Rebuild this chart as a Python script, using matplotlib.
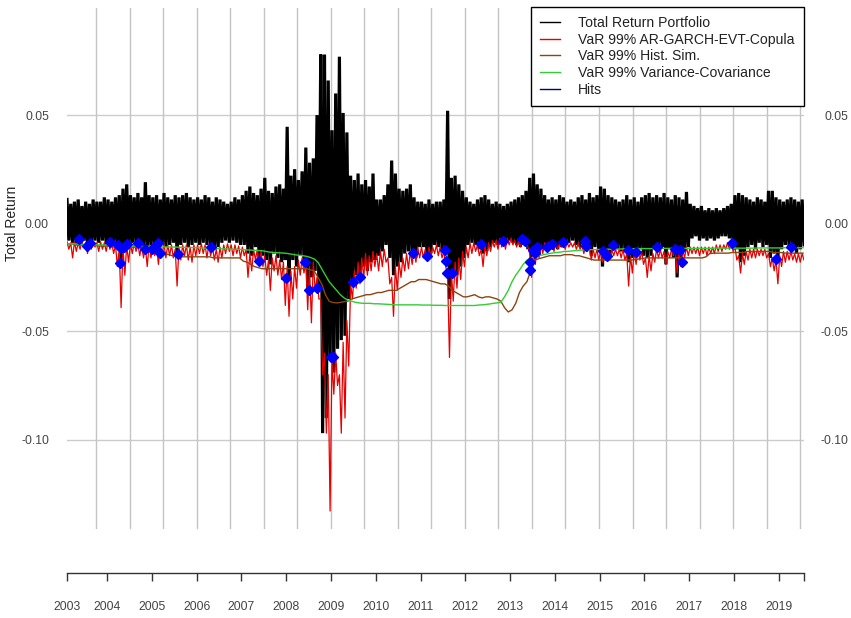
import numpy as np
import matplotlib
matplotlib.use("Agg")
import matplotlib.pyplot as plt
import matplotlib.transforms as mtransforms
from matplotlib.lines import Line2D

plt.rcParams['font.family'] = ['Liberation Sans', 'DejaVu Sans']

# Monthly series, first month = Feb 2003, last month = Jul 2019
first_year = 2003
first_month = 2

# Daily portfolio return: monthly upper / lower extremes
ret_hi = [
    0.011, 0.009, 0.010, 0.011, 0.008, 0.010, 0.009, 0.011, 0.010, 0.010, 0.012,                # 2003
    0.011, 0.010, 0.012, 0.013, 0.016, 0.018, 0.013, 0.012, 0.014, 0.012, 0.019, 0.013,         # 2004
    0.012, 0.013, 0.011, 0.014, 0.012, 0.011, 0.013, 0.012, 0.013, 0.014, 0.012, 0.011,         # 2005
    0.012, 0.011, 0.013, 0.012, 0.010, 0.012, 0.011, 0.010, 0.009, 0.010, 0.012, 0.011,         # 2006
    0.013, 0.015, 0.017, 0.014, 0.013, 0.016, 0.021, 0.015, 0.014, 0.017, 0.018, 0.016,         # 2007
    0.0446, 0.022, 0.025, 0.020, 0.024, 0.035, 0.028, 0.030, 0.050, 0.078, 0.078, 0.066,        # 2008
    0.043, 0.060, 0.077, 0.051, 0.042, 0.022, 0.020, 0.023, 0.018, 0.020, 0.017, 0.023,         # 2009
    0.011, 0.011, 0.013, 0.018, 0.029, 0.023, 0.016, 0.015, 0.016, 0.018, 0.012, 0.010,         # 2010
    0.010, 0.009, 0.011, 0.009, 0.010, 0.010, 0.011, 0.052, 0.021, 0.022, 0.018, 0.015,         # 2011
    0.012, 0.010, 0.009, 0.011, 0.012, 0.013, 0.011, 0.009, 0.010, 0.009, 0.008, 0.009,         # 2012
    0.010, 0.011, 0.012, 0.013, 0.015, 0.021, 0.023, 0.018, 0.016, 0.013, 0.011, 0.012,         # 2013
    0.011, 0.013, 0.012, 0.010, 0.011, 0.010, 0.012, 0.013, 0.011, 0.014, 0.012, 0.013,         # 2014
    0.017, 0.016, 0.013, 0.012, 0.011, 0.010, 0.011, 0.013, 0.011, 0.012, 0.010, 0.012,         # 2015
    0.013, 0.014, 0.012, 0.013, 0.012, 0.014, 0.012, 0.011, 0.013, 0.012, 0.011, 0.0145,        # 2016
    0.009, 0.008, 0.007, 0.008, 0.006, 0.007, 0.006, 0.007, 0.006, 0.007, 0.008, 0.009,         # 2017
    0.013, 0.014, 0.013, 0.012, 0.011, 0.010, 0.012, 0.011, 0.010, 0.015, 0.015, 0.012,         # 2018
    0.011, 0.010, 0.011, 0.012, 0.011, 0.010, 0.011,                                            # 2019
]
ret_lo = [
    -0.008, -0.009, -0.010, -0.010, -0.008, -0.011, -0.010, -0.008, -0.009, -0.008, -0.010,             # 2003
    -0.010, -0.009, -0.011, -0.019, -0.012, -0.011, -0.009, -0.010, -0.010, -0.011, -0.013, -0.010,     # 2004
    -0.012, -0.014, -0.010, -0.011, -0.010, -0.009, -0.015, -0.010, -0.009, -0.011, -0.010, -0.009,     # 2005
    -0.010, -0.009, -0.010, -0.011, -0.012, -0.011, -0.009, -0.008, -0.009, -0.008, -0.009, -0.010,     # 2006
    -0.010, -0.014, -0.015, -0.011, -0.018, -0.015, -0.017, -0.019, -0.014, -0.016, -0.018, -0.017,     # 2007
    -0.026, -0.017, -0.020, -0.015, -0.018, -0.031, -0.025, -0.022, -0.031, -0.097, -0.090, -0.062,     # 2008
    -0.069, -0.058, -0.054, -0.052, -0.035, -0.028, -0.024, -0.026, -0.020, -0.022, -0.018, -0.017,     # 2009
    -0.015, -0.013, -0.010, -0.016, -0.024, -0.020, -0.018, -0.014, -0.013, -0.015, -0.016, -0.011,     # 2010
    -0.011, -0.016, -0.014, -0.010, -0.011, -0.012, -0.014, -0.035, -0.025, -0.024, -0.020, -0.016,     # 2011
    -0.010, -0.009, -0.010, -0.012, -0.014, -0.013, -0.011, -0.009, -0.010, -0.009, -0.010, -0.008,     # 2012
    -0.009, -0.010, -0.011, -0.010, -0.012, -0.023, -0.016, -0.015, -0.012, -0.012, -0.010, -0.011,     # 2013
    -0.012, -0.011, -0.010, -0.009, -0.008, -0.010, -0.011, -0.012, -0.012, -0.015, -0.011, -0.013,     # 2014
    -0.020, -0.016, -0.015, -0.011, -0.012, -0.013, -0.012, -0.018, -0.016, -0.014, -0.012, -0.015,     # 2015
    -0.016, -0.015, -0.012, -0.012, -0.011, -0.019, -0.012, -0.016, -0.025, -0.019, -0.013, -0.011,     # 2016
    -0.007, -0.006, -0.008, -0.007, -0.008, -0.007, -0.008, -0.007, -0.006, -0.006, -0.007, -0.010,     # 2017
    -0.012, -0.018, -0.015, -0.011, -0.010, -0.012, -0.009, -0.011, -0.010, -0.016, -0.014, -0.017,     # 2018
    -0.012, -0.010, -0.011, -0.011, -0.014, -0.012, -0.010,                                             # 2019
]

# VaR 99% AR-GARCH-EVT-Copula: monthly shallowest / deepest level
garch_hi = [
    -0.0085, -0.009, -0.0085, -0.009, -0.0085, -0.009, -0.0085, -0.0085, -0.009, -0.0085, -0.009,               # 2003
    -0.0085, -0.009, -0.010, -0.012, -0.011, -0.010, -0.0095, -0.009, -0.0095, -0.010, -0.011, -0.010,          # 2004
    -0.010, -0.011, -0.010, -0.0095, -0.010, -0.010, -0.012, -0.011, -0.010, -0.010, -0.011, -0.010,            # 2005
    -0.010, -0.0095, -0.010, -0.010, -0.011, -0.012, -0.011, -0.010, -0.0095, -0.010, -0.010, -0.0105,          # 2006
    -0.011, -0.012, -0.014, -0.012, -0.012, -0.013, -0.015, -0.017, -0.016, -0.015, -0.017, -0.018,             # 2007
    -0.020, -0.022, -0.020, -0.017, -0.016, -0.018, -0.020, -0.018, -0.025, -0.035, -0.060, -0.070,             # 2008
    -0.063, -0.060, -0.070, -0.055, -0.045, -0.028, -0.022, -0.018, -0.016, -0.014, -0.015, -0.013,             # 2009
    -0.014, -0.013, -0.012, -0.016, -0.025, -0.020, -0.018, -0.016, -0.014, -0.013, -0.012, -0.011,             # 2010
    -0.011, -0.012, -0.011, -0.011, -0.010, -0.011, -0.013, -0.025, -0.022, -0.018, -0.016, -0.013,             # 2011
    -0.011, -0.009, -0.009, -0.010, -0.012, -0.010, -0.009, -0.008, -0.008, -0.007, -0.007, -0.007,             # 2012
    -0.007, -0.008, -0.008, -0.0075, -0.007, -0.014, -0.012, -0.011, -0.010, -0.009, -0.009, -0.009,            # 2013
    -0.009, -0.009, -0.009, -0.009, -0.009, -0.009, -0.009, -0.010, -0.010, -0.011, -0.012, -0.012,             # 2014
    -0.013, -0.013, -0.012, -0.012, -0.012, -0.012, -0.012, -0.014, -0.015, -0.013, -0.012, -0.013,             # 2015
    -0.016, -0.015, -0.014, -0.012, -0.012, -0.013, -0.013, -0.012, -0.012, -0.013, -0.012, -0.011,             # 2016
    -0.011, -0.011, -0.011, -0.011, -0.011, -0.011, -0.011, -0.010, -0.010, -0.010, -0.009, -0.009,             # 2017
    -0.011, -0.015, -0.014, -0.013, -0.012, -0.012, -0.012, -0.012, -0.012, -0.014, -0.016, -0.017,             # 2018
    -0.015, -0.013, -0.013, -0.013, -0.014, -0.014, -0.014,                                                     # 2019
]
garch_lo = [
    -0.012, -0.016, -0.013, -0.012, -0.011, -0.014, -0.012, -0.011, -0.013, -0.012, -0.013,             # 2003
    -0.012, -0.014, -0.020, -0.039, -0.024, -0.018, -0.014, -0.013, -0.015, -0.016, -0.020, -0.016,     # 2004
    -0.015, -0.019, -0.014, -0.016, -0.015, -0.016, -0.029, -0.017, -0.015, -0.017, -0.018, -0.015,     # 2005
    -0.014, -0.014, -0.016, -0.015, -0.017, -0.018, -0.016, -0.014, -0.013, -0.015, -0.014, -0.016,     # 2006
    -0.015, -0.025, -0.022, -0.017, -0.019, -0.020, -0.024, -0.031, -0.022, -0.024, -0.026, -0.038,     # 2007
    -0.043, -0.035, -0.030, -0.024, -0.023, -0.040, -0.046, -0.031, -0.035, -0.070, -0.097, -0.133,     # 2008
    -0.079, -0.075, -0.097, -0.090, -0.066, -0.035, -0.030, -0.028, -0.025, -0.024, -0.022, -0.020,     # 2009
    -0.022, -0.020, -0.018, -0.028, -0.043, -0.031, -0.025, -0.022, -0.021, -0.019, -0.018, -0.016,     # 2010
    -0.016, -0.017, -0.015, -0.014, -0.015, -0.016, -0.020, -0.062, -0.036, -0.030, -0.026, -0.020,     # 2011
    -0.016, -0.014, -0.013, -0.015, -0.020, -0.015, -0.013, -0.011, -0.012, -0.011, -0.012, -0.010,     # 2012
    -0.010, -0.011, -0.011, -0.010, -0.011, -0.025, -0.019, -0.016, -0.014, -0.013, -0.012, -0.013,     # 2013
    -0.012, -0.011, -0.012, -0.011, -0.011, -0.012, -0.012, -0.014, -0.013, -0.017, -0.016, -0.017,     # 2014
    -0.018, -0.017, -0.016, -0.015, -0.015, -0.016, -0.017, -0.029, -0.023, -0.019, -0.017, -0.019,     # 2015
    -0.025, -0.022, -0.018, -0.016, -0.016, -0.019, -0.016, -0.015, -0.023, -0.020, -0.016, -0.015,     # 2016
    -0.014, -0.014, -0.015, -0.014, -0.015, -0.014, -0.014, -0.013, -0.013, -0.012, -0.012, -0.013,     # 2017
    -0.017, -0.023, -0.019, -0.017, -0.016, -0.016, -0.015, -0.015, -0.016, -0.020, -0.022, -0.028,     # 2018
    -0.020, -0.018, -0.017, -0.017, -0.018, -0.018, -0.017,                                             # 2019
]

# VaR 99% Historical Simulation
var_hs = [
    -0.0095, -0.0095, -0.010, -0.010, -0.010, -0.010, -0.010, -0.010, -0.0105, -0.0105, -0.0105,                 # 2003
    -0.0105, -0.011, -0.011, -0.011, -0.011, -0.011, -0.011, -0.011, -0.011, -0.0115, -0.0115, -0.0115,           # 2004
    -0.0115, -0.012, -0.0135, -0.014, -0.0145, -0.015, -0.0155, -0.0155, -0.0155, -0.0155, -0.0155, -0.0155,      # 2005
    -0.0155, -0.0155, -0.0155, -0.0155, -0.016, -0.016, -0.016, -0.016, -0.016, -0.016, -0.016, -0.016,           # 2006
    -0.0175, -0.018, -0.019, -0.020, -0.0205, -0.021, -0.021, -0.021, -0.021, -0.021, -0.021, -0.021,             # 2007
    -0.021, -0.021, -0.021, -0.021, -0.021, -0.021, -0.0215, -0.022, -0.025, -0.028, -0.033, -0.036,              # 2008
    -0.0366, -0.0368, -0.0366, -0.0362, -0.036, -0.035, -0.0345, -0.034, -0.0335, -0.033, -0.033, -0.0325,        # 2009
    -0.032, -0.032, -0.0315, -0.031, -0.031, -0.031, -0.030, -0.029, -0.028, -0.027, -0.027, -0.026,              # 2010
    -0.026, -0.026, -0.0265, -0.027, -0.0275, -0.028, -0.028, -0.029, -0.031, -0.032, -0.033, -0.034,             # 2011
    -0.034, -0.0335, -0.033, -0.034, -0.0345, -0.034, -0.034, -0.0345, -0.035, -0.036, -0.039, -0.041,            # 2012
    -0.040, -0.037, -0.032, -0.029, -0.027, -0.022, -0.017, -0.0165, -0.016, -0.0155, -0.015, -0.015,             # 2013
    -0.015, -0.015, -0.0145, -0.0145, -0.0145, -0.015, -0.015, -0.0155, -0.016, -0.0165, -0.017, -0.017,          # 2014
    -0.017, -0.017, -0.017, -0.017, -0.017, -0.017, -0.017, -0.017, -0.017, -0.0168, -0.0165, -0.0163,            # 2015
    -0.016, -0.016, -0.016, -0.016, -0.016, -0.016, -0.016, -0.016, -0.016, -0.016, -0.016, -0.016,               # 2016
    -0.016, -0.016, -0.016, -0.016, -0.0155, -0.014, -0.0138, -0.0138, -0.0138, -0.0138, -0.0138, -0.0135,        # 2017
    -0.0135, -0.0135, -0.0135, -0.013, -0.013, -0.013, -0.013, -0.013, -0.013, -0.013, -0.0135, -0.0135,          # 2018
    -0.0135, -0.0138, -0.0138, -0.0138, -0.0138, -0.0138, -0.0138,                                                # 2019
]

# VaR 99% Variance-Covariance
var_vc = [
    -0.0095, -0.0095, -0.0095, -0.0097, -0.0098, -0.010, -0.010, -0.010, -0.010, -0.010, -0.010,                          # 2003
    -0.010, -0.010, -0.0102, -0.0103, -0.0104, -0.0105, -0.0105, -0.0105, -0.0106, -0.0106, -0.0107, -0.0107,              # 2004
    -0.0108, -0.0108, -0.0109, -0.0109, -0.011, -0.011, -0.011, -0.0111, -0.0111, -0.0112, -0.0112, -0.0113,               # 2005
    -0.0113, -0.0114, -0.0115, -0.0115, -0.0116, -0.0117, -0.0118, -0.0118, -0.0119, -0.012, -0.012, -0.0121,              # 2006
    -0.0122, -0.0123, -0.0124, -0.0125, -0.0126, -0.0127, -0.013, -0.0133, -0.0135, -0.0136, -0.0137, -0.0138,             # 2007
    -0.014, -0.0143, -0.0146, -0.0148, -0.015, -0.0153, -0.0158, -0.0165, -0.018, -0.021, -0.024, -0.027,                  # 2008
    -0.029, -0.031, -0.033, -0.0345, -0.0355, -0.036, -0.0365, -0.0368, -0.037, -0.037, -0.037, -0.0372,                   # 2009
    -0.0372, -0.0373, -0.0374, -0.0375, -0.0376, -0.0377, -0.0377, -0.0377, -0.0377, -0.0377, -0.0377, -0.0377,            # 2010
    -0.0378, -0.0378, -0.0378, -0.0379, -0.0379, -0.0379, -0.038, -0.038, -0.038, -0.038, -0.038, -0.038,                  # 2011
    -0.038, -0.038, -0.038, -0.0378, -0.0377, -0.0375, -0.0373, -0.037, -0.0368, -0.0365, -0.034, -0.031,                  # 2012
    -0.027, -0.024, -0.0216, -0.019, -0.017, -0.016, -0.0155, -0.015, -0.0147, -0.0143, -0.014, -0.0137,                   # 2013
    -0.0135, -0.0133, -0.013, -0.013, -0.0128, -0.0126, -0.0125, -0.0123, -0.0123, -0.0122, -0.0122, -0.0121,              # 2014
    -0.0121, -0.012, -0.012, -0.012, -0.0119, -0.0119, -0.0118, -0.0118, -0.0118, -0.0117, -0.0117, -0.0117,               # 2015
    -0.0117, -0.0117, -0.0117, -0.0117, -0.0116, -0.0116, -0.0116, -0.0116, -0.0116, -0.0116, -0.0116, -0.0116,            # 2016
    -0.0116, -0.0116, -0.0116, -0.0116, -0.0116, -0.0116, -0.0115, -0.0115, -0.0115, -0.0115, -0.0115, -0.0115,            # 2017
    -0.0115, -0.0115, -0.0115, -0.0115, -0.0115, -0.0115, -0.0114, -0.0114, -0.0114, -0.0114, -0.0114, -0.0114,            # 2018
    -0.0114, -0.0113, -0.0113, -0.0113, -0.0113, -0.0113, -0.0113,                                                         # 2019
]

# VaR exceedances (time in decimal years, return)
hit_t = [2003.38, 2003.54, 2003.61, 2004.07, 2004.24, 2004.28, 2004.30, 2004.37, 2004.45, 2004.68,
         2004.85, 2005.00, 2005.08, 2005.14, 2005.17, 2005.58, 2006.33, 2007.40, 2008.00, 2008.41,
         2008.50, 2008.68, 2008.99, 2009.05, 2009.48, 2009.65, 2010.83, 2011.14, 2011.55, 2011.57,
         2011.58, 2011.70, 2012.35, 2012.84, 2013.26, 2013.34, 2013.45, 2013.45, 2013.52, 2013.56,
         2013.60, 2013.82, 2013.93, 2014.19, 2014.68, 2014.70, 2015.07, 2015.16, 2015.30, 2015.63,
         2015.82, 2016.29, 2016.69, 2016.80, 2016.83, 2017.95, 2018.94, 2019.27]
hit_v = [-0.0073, -0.0105, -0.0092, -0.0088, -0.0100, -0.0182, -0.0113, -0.0108, -0.0097, -0.0092,
         -0.0120, -0.0119, -0.0105, -0.0090, -0.0136, -0.0143, -0.0108, -0.0176, -0.0251, -0.0177,
         -0.0308, -0.0300, -0.0616, -0.0616, -0.0272, -0.0250, -0.0138, -0.0153, -0.0125, -0.0176,
         -0.0228, -0.0228, -0.0096, -0.0082, -0.0074, -0.0080, -0.0180, -0.0216, -0.0123, -0.0139,
         -0.0108, -0.0108, -0.0096, -0.0085, -0.0080, -0.0104, -0.0127, -0.0151, -0.0099, -0.0123,
         -0.0131, -0.0108, -0.0120, -0.0123, -0.0180, -0.0090, -0.0164, -0.0108]

year_labels = [str(y) for y in range(2003, 2020)]
y_ticks = [-0.10, -0.05, 0.00, 0.05]
y_tick_labels = ["-0.10", "-0.05", "0.00", "0.05"]

# ---------------------------------------------------------------------------
n = len(ret_hi)
t = first_year + (np.arange(n) + first_month - 1 + 0.5) / 12.0
half = 1.0 / 48.0


def zigzag(hi, lo):
    """Alternate the monthly extremes so the line sweeps the whole range."""
    x = np.column_stack([t - half, t + half]).ravel()
    y = np.column_stack([hi, lo]).ravel()
    return x, y


W, H = 851, 618
fig = plt.figure(figsize=(W / 100, H / 100), dpi=100)

x_left, x_right = 67, 804
y_top, y_bot = 8, 529
ax = fig.add_axes([x_left / W, 1 - y_bot / H, (x_right - x_left) / W, (y_bot - y_top) / H])
ax.set_xlim(t[0] - half, t[-1] + half)
ax.set_ylim(-0.1413, 0.0995)
for s in ax.spines.values():
    s.set_visible(False)

for v in y_ticks:
    ax.axhline(v, color='#cccccc', lw=1.0, zorder=0)
grid_start, grid_step, grid_count = 2003.754, 0.7487, 22
for k in range(grid_count):
    ax.axvline(grid_start + k * grid_step, color='#c4c4c4', lw=1.0, zorder=0)

c_ret = 'black'
c_garch = '#E60000'
c_hs = '#8B4513'
c_vc = '#33CC33'
c_hit = '#0000FF'

xr, yr = zigzag(ret_hi, ret_lo)
ax.plot(xr, yr, color=c_ret, lw=2.3, zorder=2, solid_joinstyle='miter')
xg, yg = zigzag(garch_hi, garch_lo)
ax.plot(xg, yg, color=c_garch, lw=0.9, zorder=3)
ax.plot(t, var_hs, color=c_hs, lw=1.0, zorder=4)
ax.plot(t, var_vc, color=c_vc, lw=1.0, zorder=5)
ax.plot(hit_t, hit_v, linestyle='none', marker='D', ms=5.5, color=c_hit, mec=c_hit, zorder=6)

# y tick labels: left side on the main axes, right side on a twin
ax.set_xticks([])
ax.set_yticks(y_ticks)
ax.set_yticklabels(y_tick_labels)
ax.tick_params(axis='y', length=0, labelsize=8.7, labelcolor='#444444', pad=13)

axr = ax.twinx()
axr.set_ylim(ax.get_ylim())
axr.set_yticks(y_ticks)
axr.set_yticklabels(y_tick_labels)
axr.tick_params(axis='y', length=0, labelsize=8.7, labelcolor='#444444', pad=31.7)
for lab in axr.get_yticklabels():
    lab.set_horizontalalignment('right')
for s in axr.spines.values():
    s.set_visible(False)

# y axis title centred on the zero line
blend = mtransforms.blended_transform_factory(fig.transFigure, ax.transData)
ax.text(12 / W, 0.0, "Total Return", transform=blend, rotation=90,
        ha='center', va='center', fontsize=10, color='#222222')

# legend
handles = [Line2D([], [], color=c_ret, lw=1),
           Line2D([], [], color=c_garch, lw=1),
           Line2D([], [], color=c_hs, lw=1),
           Line2D([], [], color=c_vc, lw=1),
           Line2D([], [], color='navy', lw=1)]
labels = ["Total Return Portfolio", "VaR 99% AR-GARCH-EVT-Copula", "VaR 99% Hist. Sim.",
          "VaR 99% Variance-Covariance", "Hits"]
leg = axr.legend(handles, labels, loc='upper right',
                 bbox_to_anchor=(804 / W, 1 - 6.5 / H), bbox_transform=fig.transFigure,
                 borderaxespad=0, fontsize=10.1, frameon=True, fancybox=False,
                 edgecolor='black', framealpha=1, handlelength=1.43, handletextpad=1.3,
                 labelspacing=0.2, borderpad=0.66)
leg.get_frame().set_linewidth(1.0)
for txt in leg.get_texts():
    txt.set_color('#222222')

# separate time axis beneath the panel
axb = fig.add_axes([x_left / W, 1 - 573 / H, (x_right - x_left) / W, 0.0001])
axb.set_xlim(ax.get_xlim())
axb.set_yticks([])
for side in ('top', 'left', 'right'):
    axb.spines[side].set_visible(False)
axb.spines['bottom'].set_color('#333333')
axb.spines['bottom'].set_linewidth(1.0)
x0, x1 = ax.get_xlim()
tick_pos = [x0] + list(range(2004, 2020)) + [x1]
axb.set_xticks(tick_pos)
axb.set_xticklabels(year_labels + [""])
axb.tick_params(axis='x', direction='out', length=5.5, width=1.0, color='#333333',
                labelsize=8.7, labelcolor='#444444', pad=15)

fig.savefig("out.png", dpi=100)
